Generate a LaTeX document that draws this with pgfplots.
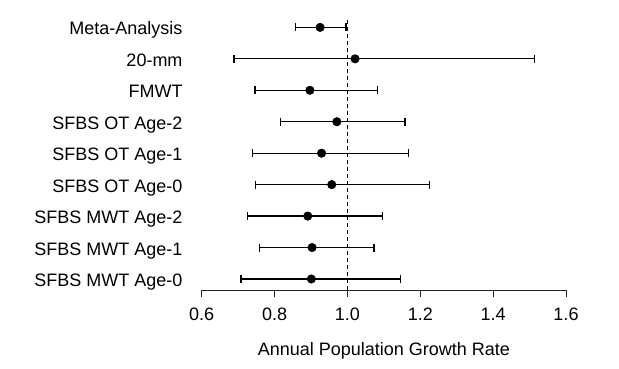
\documentclass[border=0pt]{standalone}
\usepackage{fontspec}
\setmainfont{Liberation Sans}
\usepackage{pgfplots}
\usepackage{pgfplotstable}
\pgfplotsset{compat=1.18}
\pgfplotstableread{
y lo est hi
9 0.858 0.925 0.996
8 0.689 1.021 1.513
7 0.746 0.897 1.082
6 0.816 0.971 1.158
5 0.739 0.929 1.167
4 0.748 0.957 1.225
3 0.726 0.891 1.097
2 0.758 0.903 1.073
1 0.708 0.901 1.146
}\datatable
\begin{document}
\fontsize{18}{22}\selectfont
\begin{tikzpicture}
\path[use as bounding box] (0,0) rectangle (619pt,369pt);
\begin{axis}[
  at={(201.7pt,79pt)}, anchor=south west,
  scale only axis, width=364.3pt, height=273pt,
  xmin=0.6, xmax=1.6, ymin=0.65, ymax=9.33,
  axis x line*=bottom, axis y line*=left,
  x axis line style={-, line width=0.8pt, black!85},
  y axis line style={draw=none},
  xtick={0.6,0.8,1.0,1.2,1.4,1.6},
  ytick={1,...,9},
  yticklabels={SFBS MWT Age-0, SFBS MWT Age-1, SFBS MWT Age-2, SFBS OT Age-0, SFBS OT Age-1, SFBS OT Age-2, FMWT, 20-mm, Meta-Analysis},
  ytick style={draw=none},
  xtick style={line width=0.8pt, black!85},
  tick align=outside, major tick length=7pt,
  xticklabel style={anchor=base, inner sep=0pt, yshift=-23.7pt, font=\fontsize{18}{22}\selectfont},
  yticklabel style={anchor=base east, inner sep=0pt, xshift=-12pt, yshift=-7.5pt, font=\fontsize{18}{22}\selectfont},
  /pgf/number format/.cd, fixed, fixed zerofill, precision=1, assume math mode=true,
  /pgfplots/.cd,
  xlabel={Annual Population Growth Rate},
  xlabel style={at={(axis description cs:0.5,0)}, anchor=base, inner sep=0pt, yshift=-66pt, font=\fontsize{18}{22}\selectfont},
  clip=false,
]
\addplot[black, line width=0.8pt, dash pattern=on 4pt off 3pt] coordinates {(1,0.65) (1,9.33)};
\pgfplotsset{ci/.style={black, line width=1.3pt, mark=|, mark size=4pt, mark options={solid, line width=1.3pt}}}
\addplot[ci] coordinates {(0.858,9) (0.996,9)};
\addplot[ci] coordinates {(0.689,8) (1.513,8)};
\addplot[ci] coordinates {(0.746,7) (1.082,7)};
\addplot[ci] coordinates {(0.816,6) (1.158,6)};
\addplot[ci] coordinates {(0.739,5) (1.167,5)};
\addplot[ci] coordinates {(0.748,4) (1.225,4)};
\addplot[ci] coordinates {(0.726,3) (1.097,3)};
\addplot[ci] coordinates {(0.758,2) (1.073,2)};
\addplot[ci] coordinates {(0.708,1) (1.146,1)};
\addplot[only marks, mark=*, mark size=4.3pt, black] table[x=est, y=y] {\datatable};
\end{axis}
\end{tikzpicture}
\end{document}
